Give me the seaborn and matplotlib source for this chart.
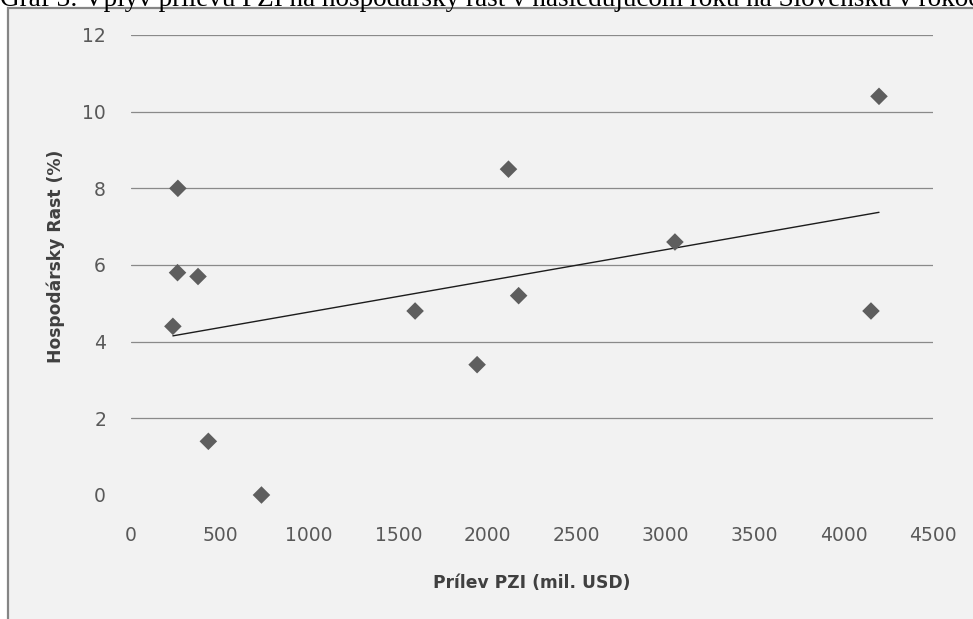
import matplotlib
matplotlib.use('Agg')
import matplotlib.pyplot as plt
from matplotlib.patches import Rectangle
import seaborn as sns
import pandas as pd

# Prílev PZI (mil. USD) a hospodársky rast v nasledujúcom roku (%)
prilev_pzi = [235, 263, 261, 376, 434, 732, 1594, 1942, 2118, 2175, 3052, 4197, 4152]
rast = [4.4, 8.0, 5.8, 5.7, 1.4, 0.0, 4.8, 3.4, 8.5, 5.2, 6.6, 10.4, 4.8]

x_ticks = [0, 500, 1000, 1500, 2000, 2500, 3000, 3500, 4000, 4500]
y_ticks = [0, 2, 4, 6, 8, 10, 12]

nadpis = 'Graf 3: Vplyv prílevu PZI na hospodársky rast v nasledujúcom roku na Slovensku v rokoch'
x_popis = 'Prílev PZI (mil. USD)'
y_popis = 'Hospodársky Rast (%)'

df = pd.DataFrame({'pzi': prilev_pzi, 'rast': rast})

sns.set_style('white')
plt.rcParams['font.family'] = ['DejaVu Sans']

fig = plt.figure(figsize=(9.73, 6.19), dpi=100)
fig.patch.set_facecolor('white')

# sivý rámik grafu (ako v Exceli)
ram = Rectangle((8 / 973, -0.1), 1.2, 1 - 8 / 619 + 0.1, transform=fig.transFigure,
                facecolor='#f2f2f2', edgecolor='#858585', linewidth=1.6, zorder=-5)
fig.patches.append(ram)

# orezaný nadpis nad grafom (v origináli je odrezaný horným okrajom)
fig.text(0.0, 1 - 6 / 619, nadpis, fontsize=19.5, family=['Liberation Serif'],
         ha='left', va='baseline', color='black')

ax = fig.add_axes([131 / 973, 124 / 619, 802 / 973, 460 / 619])
ax.set_facecolor('none')

sns.regplot(data=df, x='pzi', y='rast', ax=ax, ci=None, truncate=True, marker='D',
            scatter_kws=dict(s=80, color='#5e5e5e', alpha=1, edgecolor='none',
                             clip_on=False, zorder=3),
            line_kws=dict(color='#1c1c1c', linewidth=1.0, zorder=2))

ax.set_xlim(0, 4500)
ax.set_ylim(0, 12)
ax.set_xticks(x_ticks)
ax.set_yticks(y_ticks)
ax.tick_params(axis='both', length=0, labelsize=13.5, labelcolor='#595959')
ax.tick_params(axis='x', pad=22)
ax.tick_params(axis='y', pad=18)

ax.grid(False)
ax.yaxis.grid(True, color='#8a8a8a', linewidth=0.9)
ax.get_ygridlines()[0].set_visible(False)
ax.set_axisbelow(True)
for s in ax.spines.values():
    s.set_visible(False)

ax.set_xlabel(x_popis, fontsize=12.3, fontweight='bold', color='#404040')
ax.set_ylabel(y_popis, fontsize=12.3, fontweight='bold', color='#404040')
ax.xaxis.set_label_coords(0.5, -(583 - 495) / 460)
ax.yaxis.set_label_coords(-(131 - 56) / 802, (495 - 256) / 460)
ax.xaxis.label.set_va('center')
ax.yaxis.label.set_va('center')

fig.savefig('out.png', dpi=100)
